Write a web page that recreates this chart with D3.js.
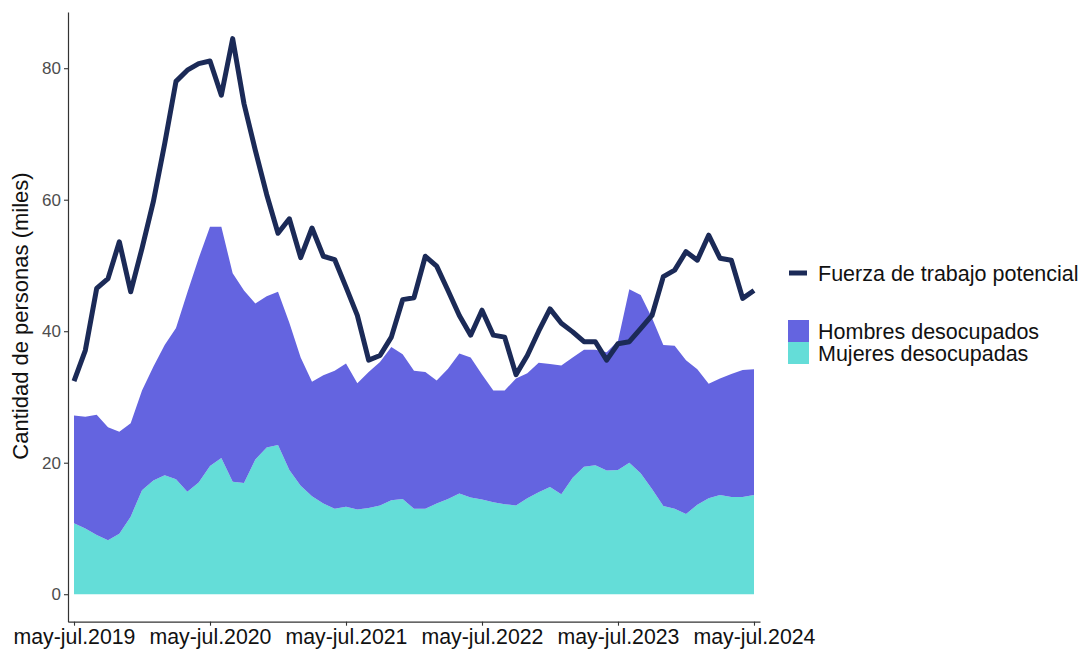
<!DOCTYPE html>
<html>
<head>
<meta charset="utf-8">
<script src="https://cdn.jsdelivr.net/npm/d3@7"></script>
<style>
  html, body { margin: 0; padding: 0; background: #fff; }
  svg { display: block; }
  text { font-family: "Liberation Sans", Arial, sans-serif; }
</style>
</head>
<body>
<svg id="chart" width="1084" height="652"></svg>
<script>
// ---------- DATA ----------
const monthNames = ["ene","feb","mar","abr","may","jun","jul","ago","sep","oct","nov","dic"];
const periods = [];
for (let i = 0; i < 61; i++) {
  const s = 4 + i, e = s + 2;
  const yr = 2019 + Math.floor(e / 12);
  periods.push(monthNames[s % 12] + "-" + monthNames[e % 12] + "." + yr);
}
const xTickLabels = ["may-jul.2019","may-jul.2020","may-jul.2021","may-jul.2022","may-jul.2023","may-jul.2024"];
const yTicks = [0, 20, 40, 60, 80];

const fuerzaPotencial = [
  32.4, 37.1, 46.5, 48.0, 53.6, 46.0, 52.6, 59.7, 68.5, 78.0,
  79.7, 80.7, 81.1, 75.9, 84.5, 74.6, 67.5, 60.8, 54.9, 57.1,
  51.2, 55.7, 51.4, 50.9, 46.7, 42.4, 35.6, 36.3, 39.1, 44.8,
  45.1, 51.4, 49.9, 46.2, 42.4, 39.4, 43.2, 39.4, 39.1, 33.4,
  36.3, 40.0, 43.4, 41.2, 39.9, 38.4, 38.4, 35.6, 38.1, 38.4,
  40.4, 42.4, 48.3, 49.3, 52.1, 50.8, 54.6, 51.1, 50.8, 45.0,
  46.2
];
const mujeresDesocupadas = [
  10.8, 10.0, 9.0, 8.2, 9.2, 11.8, 15.8, 17.3, 18.1, 17.5,
  15.6, 17.0, 19.5, 20.7, 17.1, 16.9, 20.5, 22.3, 22.7, 18.9,
  16.5, 14.9, 13.8, 13.0, 13.3, 12.9, 13.1, 13.5, 14.3, 14.5,
  13.0, 13.0, 13.8, 14.5, 15.3, 14.7, 14.4, 14.0, 13.7, 13.5,
  14.6, 15.5, 16.3, 15.2, 17.7, 19.4, 19.6, 18.8, 18.9, 20.0,
  18.4, 16.0, 13.4, 13.0, 12.2, 13.6, 14.6, 15.1, 14.8, 14.8,
  15.1
];
const hombresDesocupados = [
  16.4, 17.0, 18.3, 17.2, 15.5, 14.2, 15.2, 17.3, 19.8, 23.0,
  30.3, 34.1, 36.4, 35.2, 31.7, 29.3, 23.7, 23.0, 23.3, 22.4,
  19.5, 17.4, 19.5, 21.0, 21.8, 19.2, 20.7, 21.8, 23.3, 22.0,
  21.0, 20.8, 18.7, 19.8, 21.3, 21.3, 19.0, 17.0, 17.3, 19.3,
  19.0, 19.7, 18.7, 19.6, 18.3, 17.8, 17.6, 18.0, 19.6, 26.4,
  27.1, 26.0, 24.5, 24.8, 23.4, 20.6, 17.4, 17.7, 18.7, 19.3,
  19.1
];
const seriesNames = ["Fuerza de trabajo potencial", "Hombres desocupados", "Mujeres desocupadas"];
const colors = { linea: "#1B2A57", hombres: "#6464E0", mujeres: "#64DDD8" };

// ---------- CHART ----------
const svg = d3.select("#chart");
const mLeft = 68, mRight = 760, mTop = 12, mBottom = 621.7;

const x = d3.scalePoint().domain(periods).range([mLeft, mRight]).padding(0.53);
const y = d3.scaleLinear().domain([-4.18, 88.55]).range([mBottom, mTop]);

const rows = periods.map((p, i) => ({
  period: p,
  mujeres: mujeresDesocupadas[i],
  hombres: hombresDesocupados[i],
  fuerza: fuerzaPotencial[i]
}));

const stacked = d3.stack().keys(["mujeres", "hombres"])(rows);
const area = d3.area()
  .x(d => x(d.data.period))
  .y0(d => y(d[0]))
  .y1(d => y(d[1]));

svg.append("g").selectAll("path")
  .data(stacked)
  .join("path")
  .attr("d", area)
  .attr("fill", d => colors[d.key]);

const line = d3.line()
  .x(d => x(d.period))
  .y(d => y(d.fuerza));

svg.append("path")
  .datum(rows)
  .attr("d", line)
  .attr("fill", "none")
  .attr("stroke", colors.linea)
  .attr("stroke-width", 5)
  .attr("stroke-linejoin", "round")
  .attr("stroke-linecap", "butt");

// axes
const yAxis = svg.append("g")
  .attr("transform", `translate(${mLeft},0)`)
  .call(d3.axisLeft(y).tickValues(yTicks).tickSize(4).tickSizeOuter(0).tickPadding(3));
yAxis.select(".domain").attr("stroke", "#333").attr("stroke-width", 1.2);
yAxis.selectAll(".tick line").attr("stroke", "#333").attr("stroke-width", 1.1);
yAxis.selectAll(".tick text").attr("fill", "#4D4D4D").attr("font-size", 17);

const xAxis = svg.append("g")
  .attr("transform", `translate(0,${mBottom})`)
  .call(d3.axisBottom(x).tickValues(xTickLabels).tickSize(4).tickSizeOuter(0).tickPadding(3));
xAxis.select(".domain").attr("stroke", "#333").attr("stroke-width", 1.2);
xAxis.selectAll(".tick line").attr("stroke", "#333").attr("stroke-width", 1.1);
xAxis.selectAll(".tick text").attr("fill", "#111").attr("font-size", 21.3);

// y title
svg.append("text")
  .attr("transform", "translate(28,316) rotate(-90)")
  .attr("text-anchor", "middle")
  .attr("font-size", 22)
  .attr("fill", "#111")
  .text("Cantidad de personas (miles)");

// legend
const lg = svg.append("g");
lg.append("line")
  .attr("x1", 789).attr("x2", 807).attr("y1", 273).attr("y2", 273)
  .attr("stroke", colors.linea).attr("stroke-width", 5);
lg.append("text").attr("x", 818).attr("y", 273).attr("dy", "0.35em")
  .attr("font-size", 21.5).attr("fill", "#111").text(seriesNames[0]);

lg.append("rect").attr("x", 788).attr("y", 320).attr("width", 21).attr("height", 22).attr("fill", colors.hombres);
lg.append("text").attr("x", 818).attr("y", 331).attr("dy", "0.35em")
  .attr("font-size", 21.5).attr("fill", "#111").text(seriesNames[1]);

lg.append("rect").attr("x", 788).attr("y", 342).attr("width", 21).attr("height", 22).attr("fill", colors.mujeres);
lg.append("text").attr("x", 818).attr("y", 353).attr("dy", "0.35em")
  .attr("font-size", 21.5).attr("fill", "#111").text(seriesNames[2]);
</script>
</body>
</html>
